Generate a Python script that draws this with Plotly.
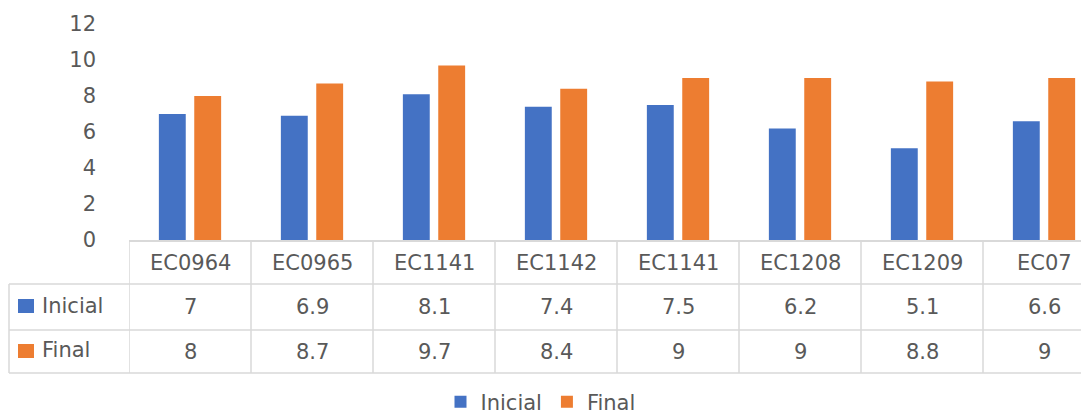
import plotly.graph_objects as go

categories = ["EC0964", "EC0965", "EC1141", "EC1142", "EC1141", "EC1208", "EC1209", "EC07"]
inicial = [7, 6.9, 8.1, 7.4, 7.5, 6.2, 5.1, 6.6]
final = [8, 8.7, 9.7, 8.4, 9, 9, 8.8, 9]
series_names = ["Inicial", "Final"]
colors = ["#4472C4", "#ED7D31"]
y_ticks = [0, 2, 4, 6, 8, 10, 12]

W, H = 1081, 415
ML, MT, MB = 129, 24, 175
PW = W - ML
PH = H - MT - MB
CELL = 122.0
x_lo = -0.5
x_hi = x_lo + PW / CELL

def px(p):
    return (p - ML) / PW

def py(p):
    return (H - MB - p) / PH

FONT = "DejaVu Sans, sans-serif"
TXT = "#595959"
GRID = "#D9D9D9"
FS = 21

xs = list(range(len(categories)))
fig = go.Figure()
for name, vals, col in zip(series_names, [inicial, final], colors):
    fig.add_trace(go.Bar(x=xs, y=vals, name=name, marker=dict(color=col, line=dict(width=0))))

shapes = []
# row separators
row_y = [284, 330, 373]
for yy in row_y:
    shapes.append(dict(type="line", xref="paper", yref="paper", x0=px(9), x1=px(W + 40),
                       y0=py(yy), y1=py(yy), line=dict(color=GRID, width=1.5)))
# vertical cell borders
for k in range(len(categories) + 1):
    shapes.append(dict(type="line", xref="x", yref="paper", x0=k - 0.5, x1=k - 0.5,
                       y0=py(H - MB), y1=py(373), line=dict(color=GRID, width=1.5)))
# left border
shapes.append(dict(type="line", xref="paper", yref="paper", x0=px(9), x1=px(9),
                   y0=py(284), y1=py(373), line=dict(color=GRID, width=1.5)))
# legend keys in table
for col, (y0, y1) in zip(colors, [(299, 313), (344, 358)]):
    shapes.append(dict(type="rect", xref="paper", yref="paper", x0=px(18), x1=px(34),
                       y0=py(y1), y1=py(y0), fillcolor=col, line=dict(width=0)))

ann = []
for i, c in enumerate(categories):
    ann.append(dict(x=i, y=py(263), xref="x", yref="paper", text=c, showarrow=False,
                    font=dict(size=FS, color=TXT, family=FONT), xanchor="center", yanchor="middle"))
for row_vals, yc in zip([inicial, final], [307, 352]):
    for i, v in enumerate(row_vals):
        ann.append(dict(x=i, y=py(yc), xref="x", yref="paper", text=f"{v:g}", showarrow=False,
                        font=dict(size=FS, color=TXT, family=FONT), xanchor="center", yanchor="middle"))
for name, yc in zip(series_names, [306, 350]):
    ann.append(dict(x=px(40), y=py(yc), xref="paper", yref="paper", text=name, showarrow=False,
                    font=dict(size=FS, color=TXT, family=FONT), xanchor="left", yanchor="middle"))

fig.update_layout(
    width=W, height=H,
    margin=dict(l=ML, r=0, t=MT, b=MB, pad=0),
    paper_bgcolor="white", plot_bgcolor="white",
    barmode="group", bargap=0.42, bargroupgap=0.24,
    font=dict(family=FONT, color=TXT, size=FS),
    showlegend=True,
    legend=dict(orientation="h", xref="container", yref="container", x=0.5, y=(H - 402) / H,
                xanchor="center", yanchor="middle", font=dict(size=FS, color=TXT, family=FONT),
                itemwidth=30, tracegroupgap=0, bgcolor="rgba(0,0,0,0)"),
    xaxis=dict(range=[x_lo, x_hi], showticklabels=False, showgrid=False, zeroline=False,
               showline=True, linecolor=GRID, linewidth=1.5, ticks="", fixedrange=True),
    yaxis=dict(range=[0, 12], tickvals=y_ticks, showgrid=False, zeroline=False, showline=False,
               ticks="", ticklabelstandoff=32, tickfont=dict(size=FS, color=TXT, family=FONT)),
    shapes=shapes,
    annotations=ann,
)

fig.write_html("out.html", config={"displayModeBar": False},
               post_script="document.body.style.margin='0';document.body.style.overflow='hidden';")
